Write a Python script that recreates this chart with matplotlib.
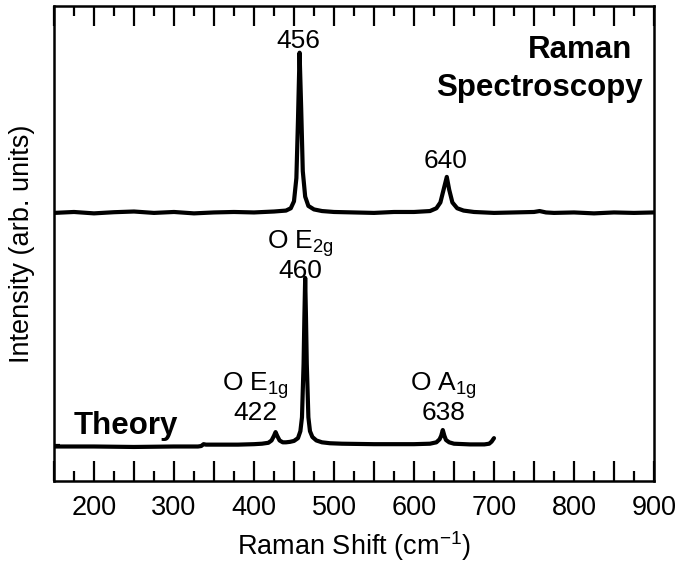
import numpy as np
import matplotlib
matplotlib.use("Agg")
import matplotlib.pyplot as plt
from matplotlib.ticker import MultipleLocator, FuncFormatter

# =========================================================
# DATA
# =========================================================
# theory spectrum, baseline = 0
theory_x = [150, 200, 250, 300, 330, 334, 337, 340, 380, 400, 410, 418, 422, 425,
            427, 429, 432, 436, 440, 445, 450, 455, 458, 460, 462, 463, 464, 465,
            466, 468, 470, 473, 478, 485, 495, 510, 550, 600, 620, 628, 632, 634,
            636, 638, 640, 644, 650, 670, 688, 694, 697, 700]
theory_y = [-0.006, -0.006, -0.008, -0.006, -0.006, -0.004, 0.004, 0.002, 0.002, 0.004, 0.006, 0.010,
            0.020, 0.040, 0.056, 0.040, 0.020, 0.012, 0.012, 0.014, 0.018, 0.030, 0.060,
            0.120, 0.350, 0.550, 0.720, 0.550, 0.350, 0.120, 0.060, 0.035, 0.020, 0.012,
            0.008, 0.006, 0.004, 0.004, 0.006, 0.012, 0.025, 0.040, 0.065, 0.040, 0.022,
            0.012, 0.006, 0.003, 0.003, 0.006, 0.015, 0.030]

# measured Raman spectrum, baseline = 0 (plotted with offset)
raman_x = [150, 175, 200, 225, 250, 275, 300, 325, 350, 375, 400, 425, 440, 446,
           450, 453, 455, 457, 459, 461, 464, 468, 475, 485, 500, 525, 550, 575,
           600, 620, 628, 633, 637, 641, 644, 648, 654, 662, 675, 700, 725, 750,
           757, 765, 775, 800, 825, 850, 875, 900]
raman_y = [0.000, 0.004, -0.002, 0.003, 0.006, 0.000, 0.004, -0.002, 0.002, 0.004,
           0.002, 0.006, 0.010, 0.020, 0.050, 0.150, 0.400, 0.690, 0.450, 0.180,
           0.070, 0.030, 0.015, 0.008, 0.004, 0.002, 0.000, 0.004, 0.004, 0.008,
           0.020, 0.045, 0.100, 0.155, 0.100, 0.045, 0.020, 0.010, 0.004, 0.000,
           0.002, 0.004, 0.008, 0.002, 0.000, 0.002, -0.002, 0.002, 0.000, 0.002]
raman_offset = 1.0

# peak labels: (x, y, text)
raman_labels = [(456, 0.69, "456"), (640, 0.172, "640")]
theory_labels = [(402, 0.086, "O E$_{1g}$\n422"),
                 (458, 0.70, "O E$_{2g}$\n460"),
                 (637, 0.086, "O A$_{1g}$\n638")]

# =========================================================
# PLOT
# =========================================================
plt.rcParams["font.family"] = ["Liberation Sans", "DejaVu Sans"]
plt.rcParams["mathtext.fontset"] = "custom"
plt.rcParams["mathtext.rm"] = "Liberation Sans"
plt.rcParams["mathtext.it"] = "Liberation Sans"

fig = plt.figure(figsize=(6.78, 5.68), dpi=100)
ax = fig.add_axes([0.0796, 0.153, 0.885, 0.836])

ax.plot(raman_x, np.array(raman_y) + raman_offset, color="black", lw=3.0,
        solid_joinstyle="round", solid_capstyle="round")
ax.plot(theory_x, theory_y, color="black", lw=3.0,
        solid_joinstyle="round", solid_capstyle="round")

for x, y, t in raman_labels:
    ax.text(x, y + raman_offset, t, ha="center", va="bottom", fontsize=19)
for x, y, t in theory_labels:
    ax.text(x, y, t, ha="center", va="bottom", fontsize=19, linespacing=1.0)

ax.text(0.963, 0.8905, "Raman", transform=ax.transAxes, ha="right", va="baseline",
        fontsize=22.5, fontweight="bold")
ax.text(0.982, 0.8105, "Spectroscopy", transform=ax.transAxes, ha="right", va="baseline",
        fontsize=22.5, fontweight="bold")
ax.text(0.032, 0.10, "Theory", transform=ax.transAxes, ha="left", va="baseline",
        fontsize=22.5, fontweight="bold")

ax.set_xlim(150, 900)
ax.set_ylim(-0.155, 1.89)

ax.xaxis.set_major_locator(MultipleLocator(50))
ax.xaxis.set_minor_locator(MultipleLocator(25))
ax.xaxis.set_major_formatter(FuncFormatter(lambda v, p: f"{v:.0f}" if v % 100 == 0 else ""))
ax.tick_params(axis="x", which="both", direction="in", top=True, bottom=True,
               width=1.6, labelsize=19.5, pad=10)
ax.tick_params(axis="x", which="major", length=14.4)
ax.tick_params(axis="x", which="minor", length=7.2)

ax.set_yticks([0, raman_offset])
ax.set_yticklabels([])
ax.tick_params(axis="y", direction="in", length=4, width=1.6, left=True, right=False)

for tk in ax.xaxis.get_major_ticks():
    if tk.get_loc() % 100 != 0:
        tk.tick1line.set_markersize(10.8)
        tk.tick2line.set_markersize(10.8)

for sp in ax.spines.values():
    sp.set_linewidth(1.8)

ax.set_xlabel("Raman Shift (cm$^{-1}$)", fontsize=19.5, labelpad=6)
ax.set_ylabel("Intensity (arb. units)", fontsize=19.5, labelpad=10)

plt.savefig("out.png", dpi=100)
plt.close()
